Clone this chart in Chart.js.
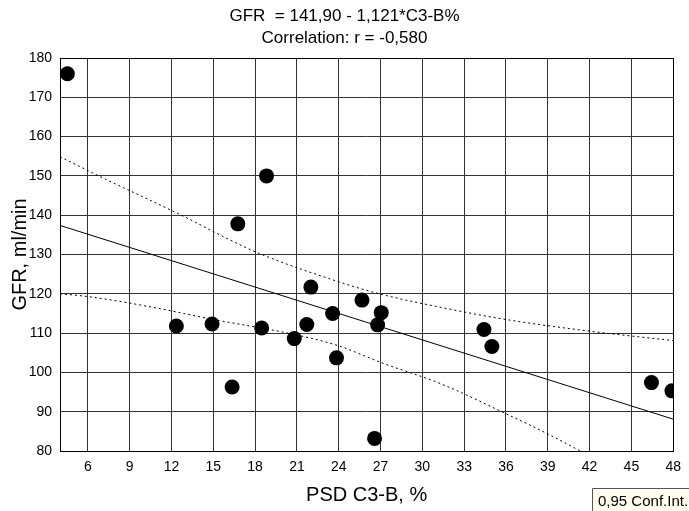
<!DOCTYPE html>
<html>
<head>
<meta charset="utf-8">
<script src="https://cdn.jsdelivr.net/npm/chart.js@4"></script>
<style>
  html, body { margin: 0; padding: 0; background: #fff; }
  canvas { display: block; }
</style>
</head>
<body>
<canvas id="chart" width="689" height="511"></canvas>
<script>
// Valeurs
const titleLines = ['GFR  = 141,90 - 1,121*C3-B%', 'Correlation: r = -0,580'];
const xTicks = [6, 9, 12, 15, 18, 21, 24, 27, 30, 33, 36, 39, 42, 45, 48];

const pointsX = [4.53, 12.35, 14.91, 16.35, 16.76, 18.47, 18.82, 20.81, 21.71, 22.0, 23.56, 23.84, 25.67, 26.57, 26.79, 27.05, 34.42, 34.99, 46.44, 47.91];
const pointsY = [176.0, 111.8, 112.3, 96.3, 137.8, 111.3, 150.0, 108.6, 112.2, 121.7, 115.0, 103.7, 118.4, 83.2, 112.1, 115.2, 110.9, 106.6, 97.4, 95.3];

// droite de régression (extrémités)
const fitX = [4, 48];
const fitY = [137.4, 88.1];

// intervalle de confiance 0,95
const upperX = [4, 6.78, 12.82, 16.14, 18.27, 23.96, 26.8, 31.4, 35.93, 41.98, 48];
const upperY = [154.9, 150.0, 139.8, 133.8, 130.3, 123.1, 120.1, 116.5, 113.5, 110.5, 108.1];
const lowerX = [4, 6, 10.46, 14.96, 20.88, 23.96, 27.04, 31.4, 35.93, 39.02, 42.5];
const lowerY = [120.0, 119.3, 116.7, 113.5, 109.6, 106.8, 102.5, 97.0, 89.6, 84.3, 77.8];

const FONT = "'Liberation Sans', Arial, sans-serif";
const toXY = (xs, ys) => xs.map((x, i) => ({ x: x, y: ys[i] }));

// Titre, cadre et encart "Conf.Int."
const decorations = {
  id: 'decorations',
  afterDraw(chart) {
    const ctx = chart.ctx;
    const area = chart.chartArea;
    ctx.save();
    ctx.strokeStyle = '#000';
    ctx.lineWidth = 1;
    ctx.strokeRect(Math.round(area.left) + 0.5, Math.round(area.top) + 0.5,
      Math.round(area.right - area.left), Math.round(area.bottom - area.top));

    ctx.fillStyle = '#000';
    ctx.font = '17px ' + FONT;
    ctx.textAlign = 'center';
    ctx.textBaseline = 'alphabetic';
    const cx = chart.width / 2;
    ctx.fillText(titleLines[0], cx, 21);
    ctx.fillText(titleLines[1], cx, 43);

    ctx.fillStyle = '#fffcf0';
    ctx.fillRect(593, 489, 96, 22);
    ctx.strokeStyle = '#555';
    ctx.beginPath();
    ctx.moveTo(592.5, 511);
    ctx.lineTo(592.5, 488.5);
    ctx.lineTo(689, 488.5);
    ctx.stroke();
    ctx.fillStyle = '#000';
    ctx.font = '15px ' + FONT;
    ctx.textAlign = 'left';
    ctx.fillText('0,95 Conf.Int.', 598, 506);
    ctx.restore();
  }
};

new Chart(document.getElementById('chart'), {
  type: 'scatter',
  data: {
    datasets: [
      {
        data: toXY(pointsX, pointsY),
        backgroundColor: '#000',
        borderColor: '#000',
        borderWidth: 0,
        pointRadius: 7.5,
        order: 0
      },
      {
        type: 'line',
        data: toXY(fitX, fitY),
        borderColor: '#000',
        borderWidth: 1,
        pointRadius: 0,
        fill: false,
        order: 1
      },
      {
        type: 'line',
        data: toXY(upperX, upperY),
        borderColor: '#000',
        borderWidth: 1,
        borderDash: [2, 3],
        pointRadius: 0,
        cubicInterpolationMode: 'monotone',
        fill: false,
        order: 2
      },
      {
        type: 'line',
        data: toXY(lowerX, lowerY),
        borderColor: '#000',
        borderWidth: 1,
        borderDash: [2, 3],
        pointRadius: 0,
        cubicInterpolationMode: 'monotone',
        fill: false,
        order: 3
      }
    ]
  },
  options: {
    responsive: false,
    animation: false,
    layout: { padding: { top: 58, right: 11, left: 0, bottom: 0 } },
    plugins: {
      legend: { display: false },
      tooltip: { enabled: false },
      title: { display: false }
    },
    scales: {
      x: {
        type: 'linear',
        min: 4,
        max: 48,
        afterBuildTicks: (scale) => { scale.ticks = xTicks.map(v => ({ value: v })); },
        afterFit: (scale) => { scale.height = 60; },
        grid: { color: '#333', lineWidth: 1, drawTicks: false },
        border: { display: false },
        ticks: { color: '#000', padding: 8, font: { family: FONT, size: 14 } },
        title: {
          display: true,
          text: 'PSD C3-B, %',
          color: '#000',
          font: { family: FONT, size: 20 },
          padding: { top: 0, bottom: 4 }
        }
      },
      y: {
        min: 80,
        max: 180,
        afterFit: (scale) => { scale.width = 60; },
        grid: { color: '#333', lineWidth: 1, drawTicks: false },
        border: { display: false },
        ticks: { stepSize: 10, color: '#000', padding: 8, font: { family: FONT, size: 14 } },
        title: {
          display: true,
          text: 'GFR, ml/min',
          color: '#000',
          font: { family: FONT, size: 20 },
          padding: { top: 8, bottom: 0 }
        }
      }
    }
  },
  plugins: [decorations]
});
</script>
</body>
</html>
